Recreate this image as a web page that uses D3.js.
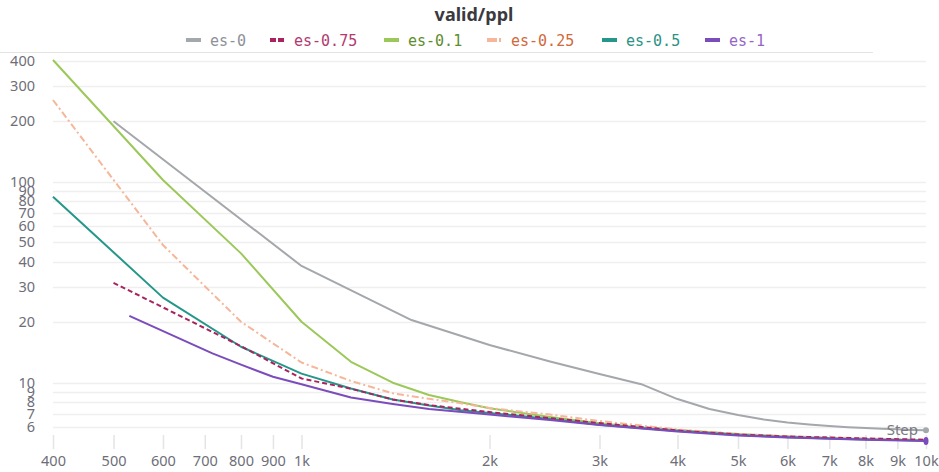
<!DOCTYPE html>
<html><head><meta charset="utf-8">
<script src="https://cdn.jsdelivr.net/npm/d3@7"></script>
<style>
html,body{margin:0;padding:0;background:#fff;}
svg{display:block;}
</style></head>
<body><svg id="c" width="939" height="472"></svg>
<script>
// ---- data ----
const seriesNames = ["es-0","es-0.75","es-0.1","es-0.25","es-0.5","es-1"];
const es0Steps   = [500,1000,1500,2000,2500,3000,3500,4000,4500,5000,5500,6000,6500,7000,7500,8000,8500,9000,9500,10000];
const es0Vals    = [200,38.1,20.5,15.4,12.75,11.05,9.83,8.29,7.4,6.9,6.56,6.33,6.19,6.09,6.01,5.95,5.9,5.86,5.82,5.8];
const es075Steps = [500,800,1000,1200,1400,1600,2000,3000,4000,5000,6000,8000,10000];
const es075Vals  = [31.4,15.2,10.5,9.33,8.25,7.74,7.14,6.3,5.78,5.52,5.4,5.28,5.2];
const es01Steps  = [400,600,800,1000,1200,1400,1600,1800,2000,2500,3000,3500,4000,5000,6000,7000,8000,9000,10000];
const es01Vals   = [403,102,44,20.1,12.7,10.0,8.68,7.99,7.46,6.75,6.28,5.98,5.82,5.55,5.4,5.3,5.25,5.2,5.15];
const es025Steps = [400,600,800,1000,1200,1400,1600,1800,2000,2500,3000,4000,5000,6000,8000,10000];
const es025Vals  = [255,48.4,20.1,12.6,10.2,8.85,8.32,7.9,7.48,6.94,6.45,5.85,5.56,5.41,5.28,5.19];
const es05Steps  = [400,600,800,1000,1200,1400,1600,1800,2000,2500,3000,4000,5000,6000,7000,8000,9000,10000];
const es05Vals   = [84.2,26.5,15.1,11.1,9.36,8.25,7.7,7.29,7.07,6.6,6.18,5.75,5.49,5.36,5.28,5.22,5.18,5.14];
const es1Steps   = [530,720,800,900,1000,1200,1400,1600,2000,2500,3000,4000,5000,6000,8000,10000];
const es1Vals    = [21.5,14.0,12.3,10.7,9.82,8.44,7.83,7.4,6.94,6.52,6.16,5.71,5.46,5.33,5.2,5.13];
const xTickVals = [400,500,600,700,800,900,1000,2000,3000,4000,5000,6000,7000,8000,9000,10000];
const xTickLabels = ["400","500","600","700","800","900","1k","2k","3k","4k","5k","6k","7k","8k","9k","10k"];
const yTickVals = [400,300,200,100,90,80,70,60,50,40,30,20,10,9,8,7,6];

// ---- styles ----
const lineColors = ["#a4a7ab","#a8235f","#9cc85a","#f5b699","#24968a","#7b4cbc"];
const textColors = ["#8d9198","#b23a70","#5e8d2c","#d0693c","#2a9286","#9466c6"];
const dashes = [null,"5,3",null,"7,3,2,3",null,null];
const legendX = [186,270,384,487,602,705];

const svg = d3.select("#c");
const x = d3.scaleLog().domain([400,10000]).range([53,926]);
const y = d3.scaleLog().domain([5,400]).range([443.2,60.7]);

// top rule
svg.append("line").attr("x1",0).attr("x2",873).attr("y1",52.5).attr("y2",52.5)
  .attr("stroke","#e4e4e4").attr("stroke-width",1);

// y grid
svg.append("g").selectAll("line").data(yTickVals).join("line")
  .attr("x1",53).attr("x2",926)
  .attr("y1",d=>Math.round(y(d))+0.5).attr("y2",d=>Math.round(y(d))+0.5)
  .attr("stroke","#efefef").attr("stroke-width",1.5);

// y labels
svg.append("g").selectAll("text").data(yTickVals).join("text")
  .attr("x",35).attr("y",d=>y(d)).attr("dy","0.35em")
  .attr("text-anchor","end")
  .attr("font-family","'Noto Sans', sans-serif").attr("font-size",14.5)
  .attr("fill","#6e6e78").text(d=>d);

// x ticks
const xa = d3.axisBottom(x).tickValues(xTickVals)
  .tickFormat((d,i)=>xTickLabels[i]).tickSize(14).tickPadding(4);
const gx = svg.append("g").attr("transform","translate(0,435)").call(xa);
gx.select(".domain").remove();
gx.selectAll(".tick line").attr("stroke","#e4e4e4").attr("stroke-width",1.5);
gx.selectAll(".tick text").attr("font-family","'Noto Sans', sans-serif")
  .attr("font-size",14.5).attr("fill","#6e6e78").attr("dy","0.9em");

// lines
const all = [
  [es0Steps,es0Vals],[es075Steps,es075Vals],[es01Steps,es01Vals],
  [es025Steps,es025Vals],[es05Steps,es05Vals],[es1Steps,es1Vals]
];
const line = d3.line().x(d=>x(d[0])).y(d=>y(d[1]));
const drawOrder = [0,2,3,4,1,5];
drawOrder.forEach(i=>{
  const pts = all[i][0].map((s,j)=>[s,all[i][1][j]]);
  svg.append("path").datum(pts).attr("d",line)
    .attr("fill","none").attr("stroke",lineColors[i])
    .attr("stroke-width",2).attr("stroke-linejoin","round")
    .attr("stroke-dasharray",dashes[i]);
});

// end dots
svg.append("circle").attr("cx",x(10000)).attr("cy",y(es0Vals[es0Vals.length-1])).attr("r",3).attr("fill","#a4a7ab");
svg.append("ellipse").attr("cx",x(10000)).attr("cy",y(es1Vals[es1Vals.length-1])).attr("rx",2.5).attr("ry",4).attr("fill","#7b4cbc");

// Step label
svg.append("text").attr("x",918).attr("y",y(es0Vals[es0Vals.length-1])).attr("dy","0.35em")
  .attr("text-anchor","end").attr("font-family","'Noto Sans', sans-serif")
  .attr("font-size",15).attr("fill","#7a7a82").text("Step");

// title
svg.append("text").attr("x",474).attr("y",21).attr("text-anchor","middle")
  .attr("font-family","'Noto Sans', sans-serif").attr("font-weight","bold")
  .attr("font-size",18).attr("fill","#3a3a40").text("valid/ppl");

// legend
seriesNames.forEach((n,i)=>{
  const lx = legendX[i];
  svg.append("line").attr("x1",lx).attr("x2",lx+15).attr("y1",40).attr("y2",40)
    .attr("stroke",lineColors[i]).attr("stroke-width",4)
    .attr("stroke-dasharray", i===1 ? "6,2" : (i===3 ? "10,2,2,2" : null));
  svg.append("text").attr("x",lx+24).attr("y",41).attr("dy","0.35em")
    .attr("font-family","'DejaVu Sans Mono', monospace").attr("font-size",15)
    .attr("fill",textColors[i]).text(n);
});
</script>
</body></html>
